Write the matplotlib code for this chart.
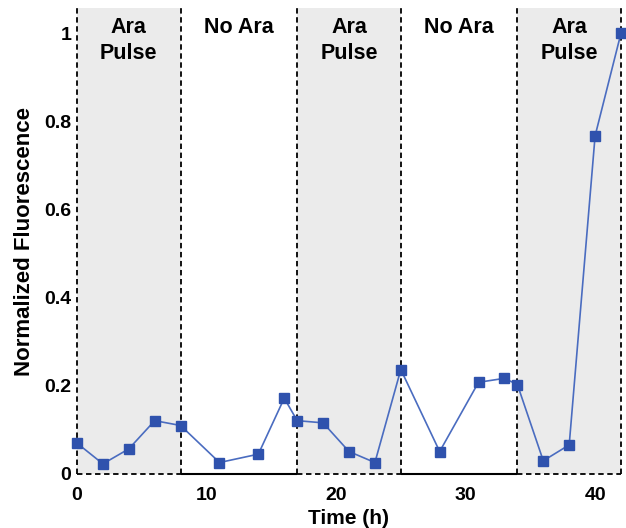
import matplotlib
matplotlib.use("Agg")
import matplotlib.pyplot as plt

# Data
time_h = [0, 2, 4, 6, 8, 11, 14, 16, 17, 19, 21, 23, 25, 28, 31, 33, 34, 36, 38, 40, 42]
fluor = [0.070, 0.023, 0.057, 0.121, 0.110, 0.026, 0.045, 0.172, 0.121, 0.116, 0.051,
         0.026, 0.237, 0.051, 0.208, 0.217, 0.203, 0.030, 0.066, 0.767, 1.0]
phases = [(0, 8, "Ara\nPulse", True), (8, 17, "No Ara", False), (17, 25, "Ara\nPulse", True),
          (25, 34, "No Ara", False), (34, 42, "Ara\nPulse", True)]
xticks = [0, 10, 20, 30, 40]
yticks = [0, 0.2, 0.4, 0.6, 0.8, 1.0]
yticklabels = ["0", "0.2", "0.4", "0.6", "0.8", "1"]

plt.rcParams['font.family'] = ['Liberation Sans', 'DejaVu Sans']
plt.rcParams['font.weight'] = 'bold'

fig = plt.figure(figsize=(6.26, 5.28), dpi=100)
ax = fig.add_axes([77/626, 54/528, (621-77)/626, (474-8)/528])
ax.set_xlim(0, 42)
ax.set_ylim(0, 1.057)
for s in ax.spines.values():
    s.set_visible(False)

dash = (0, (3, 2))
for a, b, lab, shaded in phases:
    if shaded:
        ax.axvspan(a, b, color="#ebebeb", zorder=0, lw=0)
        ax.hlines(0, a, b, colors="black", linestyles=dash, lw=1.3, clip_on=False, zorder=1)
    else:
        ax.hlines(0, a, b, colors="black", linestyles="solid", lw=1.5, clip_on=False, zorder=1)
    ax.text((a + b) / 2, 1.036, lab, ha="center", va="top", fontsize=15.5,
            fontweight="bold", linespacing=1.32)

bounds = sorted(set([p[0] for p in phases] + [p[1] for p in phases]))
for b in bounds:
    ax.axvline(b, color="black", ls=dash, lw=1.3, zorder=1, clip_on=False)

ax.plot(time_h, fluor, color="#4a6cc0", lw=1.2, marker="s", markersize=6.5,
        markerfacecolor="#2f52ad", markeredgecolor="#2f52ad", clip_on=False, zorder=3)

ax.set_xticks(xticks)
ax.set_xticklabels([str(t) for t in xticks], fontsize=14, fontweight="bold")
ax.set_xticks([10, 30], minor=True)
ax.tick_params(axis="x", which="major", length=0, pad=9)
ax.tick_params(axis="x", which="minor", direction="in", length=5, width=1.5, color="black")
ax.set_yticks(yticks)
ax.set_yticklabels(yticklabels, fontsize=14, fontweight="bold")
ax.tick_params(axis="y", length=0, pad=4)

ax.set_xlabel("Time (h)", fontsize=15, fontweight="bold", labelpad=4)
ax.set_ylabel("Normalized Fluorescence", fontsize=16, fontweight="bold", labelpad=7)

fig.savefig("out.png", dpi=100)
